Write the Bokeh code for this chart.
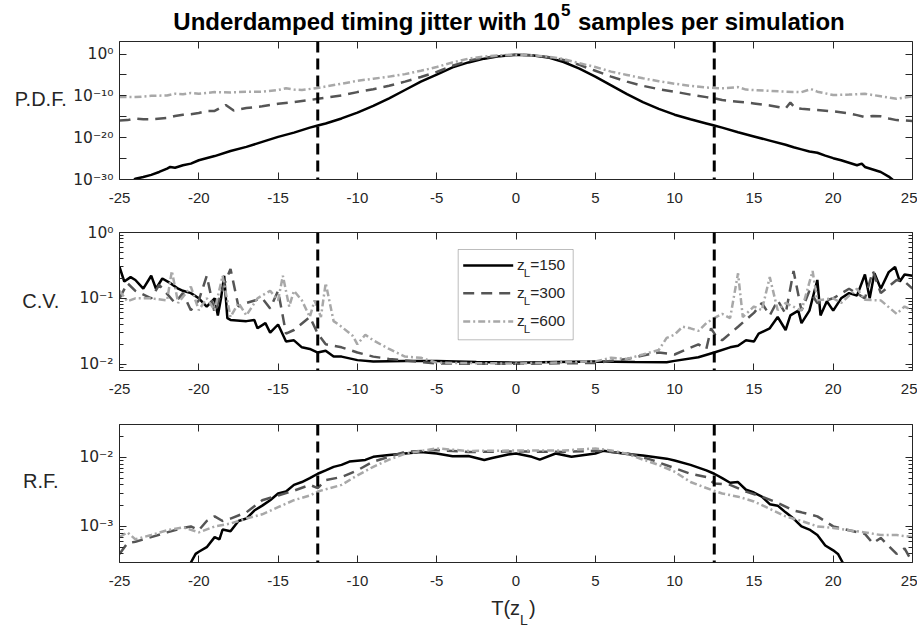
import numpy as np
from bokeh.plotting import figure
from bokeh.layouts import column, row
from bokeh.models import (Range1d, FixedTicker, CustomJSTickFormatter, LinearAxis,
                          LogAxis, Span, Label, BoxAnnotation)
from bokeh.embed import file_html
from bokeh.resources import INLINE

FONT = "Liberation Sans"
TICK_FONT_Y = "DejaVu Sans"
AX = "#262626"

# ---------------- data ----------------
t_ticks = [-25, -20, -15, -10, -5, 0, 5, 10, 15, 20, 25]
boundaries = [-12.5, 12.5]
legend_values = ["150", "300", "600"]
panel_names = ["P.D.F.", "C.V.", "R.F."]

pdf_range = (1e-30, 1e3)
cv_range = (0.008, 1.0)
rf_range = (3e-4, 3e-2)

# P.D.F. (stored as log10 of the density)
pdf_t_150 = [-24.3, -24.0, -23.5, -23.0, -22.5, -22.0, -21.8, -21.5, -21.0, -20.5, -20.0,
             -19.0, -18.0, -17.0, -16.0, -15.0, -14.0, -13.0, -12.5, -12.0, -11.0, -10.0,
             -9.0, -8.0, -7.0, -6.0, -5.0, -4.0, -3.0, -2.0, -1.0, 0.0, 1.0, 2.0, 3.0, 4.0,
             5.0, 6.0, 7.0, 8.0, 9.0, 10.0, 11.0, 12.0, 12.5, 13.0, 14.0, 15.0, 16.0, 17.0,
             17.5, 18.0, 18.5, 19.0, 19.5, 20.0, 20.5, 21.0, 21.5, 21.8, 22.0, 22.5, 23.0,
             23.5, 23.9]
pdf_log_150 = [-31.0, -29.8, -29.4, -28.9, -28.2, -27.4, -27.0, -27.2, -26.6, -26.2, -25.4,
               -24.4, -23.2, -22.2, -21.0, -19.8, -18.8, -17.6, -17.1, -16.6, -15.4, -14.0,
               -12.4, -10.6, -8.6, -6.6, -4.9, -3.2, -2.0, -1.1, -0.5, -0.15, -0.3, -0.8, -1.9, -3.5,
               -5.4, -7.5, -9.6, -11.5, -13.1, -14.5, -15.6, -16.6, -17.1, -17.6, -18.7, -19.7, -20.7, -21.7,
               -22.3, -22.8, -23.3, -23.6, -24.3, -24.9, -25.4, -26.0, -26.6, -26.2, -27.0, -27.6, -28.2,
               -29.3, -30.5]

pdf_t_300 = [-25.0, -24.5, -24.0, -23.5, -23.0, -22.0, -21.5, -21.0, -20.5, -20.0, -19.5,
             -19.0, -18.3, -17.8, -17.0, -16.0, -15.0, -14.0, -13.0, -12.5, -11.0, -10.0,
             -9.0, -8.0, -7.0, -6.0, -5.0, -4.0, -3.0, -2.0, -1.0, 0.0, 1.0, 2.0, 3.0, 4.0,
             5.0, 6.0, 7.0, 8.0, 9.0, 10.0, 11.0, 12.0, 12.5, 13.0, 14.0, 15.0, 16.0, 17.0,
             17.3, 17.6, 18.0, 19.0, 20.0, 21.0, 21.5, 22.0, 22.5, 23.0, 23.5, 24.0, 24.5, 25.0]
pdf_log_300 = [-15.9, -15.8, -15.4, -15.6, -15.6, -15.3, -14.8, -14.5, -14.4, -14.1, -13.6,
               -13.6, -12.2, -13.5, -12.9, -12.5, -11.9, -11.5, -11.0, -10.7, -9.9, -9.1,
               -8.4, -7.6, -6.6, -5.5, -4.3, -2.8, -1.6, -0.9, -0.4, -0.15, -0.3, -0.7, -1.4, -2.6,
               -4.0, -5.4, -6.6, -7.6, -8.4, -9.0, -9.7, -10.3, -10.6, -11.0, -11.4, -11.8, -12.3, -13.0,
               -11.6, -12.9, -13.1, -13.4, -13.7, -14.2, -14.6, -15.1, -14.8, -14.9, -15.4, -15.8, -15.9, -16.0]

pdf_t_600 = [-25.0, -24.0, -23.0, -22.0, -21.5, -21.0, -20.5, -20.0, -19.0, -18.0, -17.0,
             -16.0, -15.0, -14.5, -14.0, -13.5, -12.5, -11.0, -10.0, -9.0, -8.0, -7.0,
             -6.0, -5.0, -4.0, -3.0, -2.0, -1.0, 0.0, 1.0, 2.0, 3.0, 4.0, 5.0, 6.0, 7.0,
             8.0, 9.0, 10.0, 11.0, 12.0, 12.5, 13.0, 14.0, 14.5, 15.0, 16.0, 17.0, 18.0, 18.6,
             19.0, 20.0, 21.0, 22.0, 23.0, 24.0, 25.0]
pdf_log_600 = [-10.3, -10.3, -10.0, -9.9, -9.5, -9.6, -9.3, -9.5, -9.1, -9.2, -9.0,
               -9.0, -8.6, -8.2, -8.5, -8.6, -8.1, -7.1, -6.4, -5.9, -5.4, -4.8,
               -4.0, -3.1, -2.0, -1.1, -0.6, -0.3, -0.15, -0.3, -0.6, -1.2, -2.2, -3.1, -4.2, -5.0,
               -5.8, -6.5, -7.1, -7.6, -8.0, -8.1, -8.2, -7.9, -8.5, -8.6, -8.8, -9.0, -9.1, -8.4,
               -9.0, -9.8, -9.7, -9.5, -10.1, -10.7, -10.1]

# C.V.
cv_t_150 = [-25.0, -24.7, -24.3, -24.0, -23.5, -23.0, -22.7, -22.3, -21.8, -21.3, -21.0,
            -20.5, -20.0, -19.5, -19.0, -18.8, -18.6, -18.4, -18.2, -18.0, -17.0, -16.5,
            -16.3, -15.8, -15.5, -15.0, -14.5, -14.0, -13.5, -13.0, -12.5, -12.0, -11.5,
            -11.0, -10.0, -9.0, -7.0, -5.0, -2.5, 0.0, 2.5, 5.0, 7.5, 9.5, 10.0, 11.5, 12.5,
            13.5, 14.0, 14.5, 15.0, 15.3, 16.0, 16.5, 17.0, 17.3, 17.8, 18.0, 18.5, 19.0,
            19.2, 19.6, 20.0, 20.5, 21.0, 21.5, 22.0, 22.3, 22.6, 23.0, 23.5, 23.9, 24.2,
            24.5, 25.0]
cv_150 = [0.30, 0.18, 0.21, 0.19, 0.14, 0.22, 0.14, 0.20, 0.17, 0.14, 0.13,
          0.12, 0.10, 0.075, 0.10, 0.055, 0.10, 0.22, 0.05, 0.047, 0.045, 0.047,
          0.035, 0.042, 0.030, 0.040, 0.022, 0.023, 0.018, 0.017, 0.015, 0.016, 0.013,
          0.013, 0.0115, 0.011, 0.0112, 0.0112, 0.0108, 0.0105, 0.0108, 0.011, 0.0108, 0.0107, 0.0112, 0.0127, 0.015,
          0.018, 0.019, 0.023, 0.022, 0.029, 0.035, 0.052, 0.033, 0.055, 0.065, 0.042, 0.065, 0.19,
          0.055, 0.09, 0.065, 0.10, 0.12, 0.11, 0.23, 0.10, 0.24, 0.14, 0.25, 0.30, 0.18,
          0.23, 0.22]

cv_t_300 = [-25.0, -24.5, -24.0, -23.0, -22.5, -21.5, -21.0, -20.5, -20.0, -19.5, -19.0,
            -18.5, -18.0, -17.5, -17.0, -16.0, -15.5, -15.0, -14.5, -14.0, -13.0, -12.5,
            -12.0, -11.0, -10.0, -9.0, -8.0, -5.0, 0.0, 5.0, 7.0, 8.0, 9.0, 10.0, 11.5, 12.0,
            12.3, 12.6, 13.0, 14.0, 15.0, 15.5, 16.0, 16.5, 17.0, 17.5, 18.0, 18.5, 19.0,
            20.0, 21.0, 22.0, 22.5, 23.0, 24.0, 24.5, 25.0]
cv_300 = [0.10, 0.17, 0.13, 0.10, 0.16, 0.085, 0.12, 0.066, 0.093, 0.22, 0.06,
          0.14, 0.28, 0.075, 0.085, 0.10, 0.07, 0.13, 0.029, 0.033, 0.052, 0.029,
          0.020, 0.018, 0.015, 0.013, 0.012, 0.0102, 0.0101, 0.0104, 0.012, 0.0135, 0.015, 0.014, 0.020, 0.017,
          0.035, 0.027, 0.023, 0.037, 0.06, 0.085, 0.055, 0.093, 0.058, 0.26, 0.065, 0.13, 0.085,
          0.10, 0.14, 0.10, 0.26, 0.12, 0.19, 0.18, 0.14]

cv_t_600 = [-25.0, -24.5, -24.0, -23.0, -22.0, -21.7, -21.3, -20.5, -20.0, -19.5, -19.0,
            -18.5, -18.0, -17.5, -17.0, -16.3, -15.5, -15.0, -14.7, -14.3, -14.0, -13.5,
            -13.0, -12.7, -12.3, -12.0, -11.5, -11.0, -10.3, -10.0, -9.5, -9.0, -8.0, -7.0,
            -6.0, -5.0, 0.0, 5.0, 6.0, 7.0, 8.0, 9.0, 9.5, 10.0, 10.5, 11.0, 11.5, 12.0, 12.5,
            13.0, 13.5, 14.0, 14.3, 15.0, 15.5, 16.0, 16.5, 17.0, 18.0, 18.7, 19.0, 20.0,
            20.5, 21.5, 22.0, 23.0, 24.0, 24.5, 25.0]
cv_600 = [0.13, 0.09, 0.10, 0.10, 0.093, 0.26, 0.085, 0.15, 0.066, 0.10, 0.066,
          0.22, 0.052, 0.085, 0.055, 0.10, 0.13, 0.093, 0.22, 0.075, 0.13, 0.093,
          0.052, 0.093, 0.052, 0.17, 0.045, 0.037, 0.027, 0.020, 0.028, 0.023, 0.017, 0.013,
          0.0125, 0.0105, 0.0102, 0.011, 0.0125, 0.012, 0.014, 0.0164, 0.025, 0.028, 0.037, 0.035, 0.032, 0.042, 0.05,
          0.058, 0.05, 0.24, 0.052, 0.075, 0.066, 0.21, 0.066, 0.085, 0.065, 0.26, 0.093, 0.10,
          0.085, 0.14, 0.095, 0.093, 0.058, 0.075, 0.066]

# R.F.
rf_t_150 = [-20.8, -20.5, -20.2, -20.0, -19.5, -19.0, -18.7, -18.5, -18.0, -17.5, -17.0,
            -16.5, -16.0, -15.5, -15.0, -14.5, -14.0, -13.5, -13.0, -12.5, -12.0, -11.5,
            -11.0, -10.5, -9.5, -9.0, -8.0, -6.0, -5.0, -4.0, -3.0, -2.0, -1.5, -0.5, 0.0,
            1.0, 1.5, 2.5, 3.5, 5.0, 5.5, 7.0, 8.0, 9.5, 10.0, 11.0, 12.0, 12.5, 13.0, 13.5,
            14.0, 14.5, 15.0, 15.5, 16.0, 16.5, 17.0, 17.5, 18.0, 18.5, 19.0, 19.5, 20.0,
            20.3, 20.6, 20.9]
rf_150 = [0.0002, 0.0003, 0.0004, 0.00043, 0.0005, 0.0007, 0.00065, 0.0009, 0.00085, 0.0012, 0.0013,
          0.0017, 0.0020, 0.0024, 0.0030, 0.0032, 0.0040, 0.0044, 0.0050, 0.0058, 0.0065, 0.0073,
          0.0078, 0.0087, 0.0092, 0.0102, 0.0108, 0.0120, 0.0114, 0.0104, 0.0105, 0.0092, 0.0098, 0.0110, 0.0114,
          0.0102, 0.0093, 0.0114, 0.0102, 0.0114, 0.0125, 0.0112, 0.0107, 0.0096, 0.0090, 0.0078, 0.0065, 0.0058, 0.0050, 0.0043,
          0.0044, 0.0034, 0.0031, 0.0027, 0.0021, 0.0020, 0.0016, 0.0013, 0.0010, 0.0009, 0.00075, 0.00053, 0.00045,
          0.0004, 0.0003, 0.0002]

rf_t_300 = [-25.0, -24.5, -24.0, -23.0, -22.0, -21.0, -20.5, -20.0, -19.5, -19.0, -18.5,
            -18.0, -17.0, -16.0, -15.0, -14.0, -13.0, -12.5, -12.0, -11.0, -10.0, -9.0,
            -8.0, -7.0, -5.0, -3.0, 0.0, 3.0, 5.0, 7.0, 8.5, 10.0, 11.0, 12.0, 12.5, 13.5,
            14.5, 15.5, 16.5, 17.5, 18.0, 19.0, 20.0, 21.0, 22.0, 22.5, 23.0, 24.0, 24.5, 25.0]
rf_300 = [0.0004, 0.00057, 0.0006, 0.0007, 0.00082, 0.00095, 0.0010, 0.00088, 0.0012, 0.0014, 0.0012,
          0.0013, 0.0016, 0.0024, 0.0028, 0.0033, 0.0040, 0.0036, 0.0047, 0.0052, 0.0065, 0.0087,
          0.0102, 0.0120, 0.0128, 0.0120, 0.0122, 0.0120, 0.0125, 0.0115, 0.0093, 0.0070, 0.0058, 0.0052, 0.0042, 0.0040,
          0.0032, 0.0027, 0.0022, 0.0017, 0.0016, 0.0014, 0.0010, 0.00088, 0.00078, 0.00057, 0.00068, 0.0004, 0.00048, 0.0003]

rf_t_600 = [-25.0, -24.5, -24.0, -23.0, -22.0, -21.0, -20.0, -19.0, -18.0, -17.0, -16.0,
            -15.0, -14.0, -13.0, -12.5, -11.0, -10.0, -9.0, -8.0, -7.0, -5.0, -3.0, 0.0,
            3.0, 5.0, 6.0, 7.0, 8.0, 9.0, 10.0, 11.0, 12.0, 13.0, 14.0, 15.0, 16.0, 17.0,
            18.0, 19.0, 20.0, 21.0, 22.0, 23.0, 24.0, 25.0]
rf_600 = [0.0007, 0.00082, 0.00065, 0.00075, 0.00088, 0.00097, 0.00082, 0.0010, 0.0011, 0.0013, 0.0015,
          0.0019, 0.0024, 0.0028, 0.0032, 0.0040, 0.0055, 0.0073, 0.0093, 0.0113, 0.0135, 0.0124, 0.0126,
          0.0126, 0.0135, 0.0126, 0.0113, 0.0093, 0.0078, 0.0062, 0.0044, 0.0036, 0.0030, 0.0027, 0.0023, 0.0018, 0.0014,
          0.0012, 0.0010, 0.00095, 0.00088, 0.00082, 0.00075, 0.00075, 0.0007]

# ---------------- styles / geometry ----------------
STYLES = [dict(line_color="black", line_width=2.5),
          dict(line_color="#555555", line_width=2.5, line_dash="11 7"),
          dict(line_color="#a8a8a8", line_width=2.5, line_dash="7 3 2 3")]

NAME_W = 68          # width of the column holding P.D.F. / C.V. / R.F.
LEFT_B = 51          # left border of each panel (tick labels)
RIGHT_B = 5
FW, FH = 793, 138
TOTAL_W = NAME_W + LEFT_B + FW + RIGHT_B
FRAME_L, FRAME_R = float(NAME_W + LEFT_B), float(NAME_W + LEFT_B + FW)
X0, X1 = -25, 25

TITLE_H = 37
PANEL_BORDERS = [(4, 32), (21, 32), (22, 32)]   # (top, bottom) of the three panels
XLAB_H = 34
MID = 0.3465          # baseline sits this many em below the text's middle

TOPS = []
acc = TITLE_H
for tb, bb in PANEL_BORDERS:
    TOPS.append(acc + tb)
    acc += tb + FH + bb


def x_at(px):
    return X0 + (px - FRAME_L) / (FRAME_R - FRAME_L) * (X1 - X0)


def y_at(py, frame_top, yr):
    lo, hi = np.log10(yr[0]), np.log10(yr[1])
    return 10 ** (hi - (py - frame_top) / FH * (hi - lo))


SUP_JS = """
const sup = {"-": "\u207b", "0": "\u2070", "1": "\u00b9", "2": "\u00b2", "3": "\u00b3",
             "4": "\u2074", "5": "\u2075", "6": "\u2076", "7": "\u2077", "8": "\u2078", "9": "\u2079"};
const e = Math.round(Math.log10(tick));
if (e % every !== 0) { return ""; }
let s = "10";
for (const c of String(e)) { s += sup[c]; }
return s;
"""


def style_axis(a, font, font_size):
    a.axis_line_color = AX
    a.axis_line_width = 1
    a.major_tick_line_color = AX
    a.minor_tick_line_color = AX
    a.major_tick_in = 7
    a.major_tick_out = 0
    a.minor_tick_in = 4
    a.minor_tick_out = 0
    a.major_label_text_font = font
    a.major_label_text_color = AX
    a.major_label_text_font_size = font_size


def make_panel(yr, top, bottom, major, minor, every):
    p = figure(frame_width=FW, frame_height=FH, x_range=Range1d(X0, X1),
               y_range=Range1d(*yr), y_axis_type="log", output_backend="svg",
               toolbar_location=None, min_border_left=LEFT_B, min_border_right=RIGHT_B,
               min_border_top=top, min_border_bottom=bottom, title=None,
               background_fill_color="white", border_fill_color="white",
               outline_line_color=None)
    p.grid.visible = False
    yt = FixedTicker(ticks=major, minor_ticks=minor)
    xt = FixedTicker(ticks=t_ticks, minor_ticks=[])
    p.yaxis.ticker = yt
    p.yaxis.formatter = CustomJSTickFormatter(args=dict(every=every), code=SUP_JS)
    p.xaxis.ticker = xt
    p.xaxis.formatter = CustomJSTickFormatter(code="return tick.toString();")
    for a in p.yaxis:
        style_axis(a, TICK_FONT_Y, "15.5px")
        a.major_label_standoff = 6
    for a in p.xaxis:
        style_axis(a, FONT, "15px")
        a.major_label_standoff = 13
    blank = CustomJSTickFormatter(code="return '';")
    ra = LogAxis(ticker=yt, formatter=blank)
    style_axis(ra, FONT, "0px")
    ra.major_label_standoff = 0
    p.add_layout(ra, "right")
    ta = LinearAxis(ticker=xt, formatter=blank)
    style_axis(ta, FONT, "0px")
    ta.major_label_standoff = 0
    p.add_layout(ta, "above")
    return p


def text_fig(w, h):
    f = figure(width=w, height=h, x_range=Range1d(0, w), y_range=Range1d(h, 0),
               toolbar_location=None, output_backend="svg", min_border=0,
               x_axis_location=None, y_axis_location=None, title=None,
               outline_line_color=None, background_fill_color="white",
               border_fill_color="white")
    f.grid.visible = False
    return f


def put(f, x, base_y, text, size_px, align="left", bold=False, color=AX, font=FONT):
    f.add_layout(Label(x=x, y=base_y - MID * size_px, text=text, text_font=font,
                       text_font_size=f"{size_px}px", text_align=align,
                       text_baseline="middle", text_color=color,
                       text_font_style="bold" if bold else "normal"))


def decade_minors(lo_exp, hi_exp, yr):
    out = []
    for n in range(lo_exp, hi_exp + 1):
        for k in range(2, 10):
            v = k * 10.0 ** n
            if yr[0] <= v <= yr[1]:
                out.append(v)
    return out


p1 = make_panel(pdf_range, *PANEL_BORDERS[0], [10.0 ** e for e in range(-30, 1, 5)], [], 10)
p2 = make_panel(cv_range, *PANEL_BORDERS[1], [0.01, 0.1, 1.0], decade_minors(-3, -1, cv_range), 1)
p3 = make_panel(rf_range, *PANEL_BORDERS[2], [1e-3, 1e-2], decade_minors(-4, -2, rf_range), 1)

pdf_sets = [(pdf_t_150, pdf_log_150), (pdf_t_300, pdf_log_300), (pdf_t_600, pdf_log_600)]
for (t, lg), st in zip(pdf_sets, STYLES):
    p1.line(t, [10.0 ** v for v in lg], **st)

cv_sets = [(cv_t_150, cv_150), (cv_t_300, cv_300), (cv_t_600, cv_600)]
for (t, v), st in zip(cv_sets, STYLES):
    p2.line(t, v, **st)

rf_sets = [(rf_t_150, rf_150), (rf_t_300, rf_300), (rf_t_600, rf_600)]
for (t, v), st in zip(rf_sets, STYLES):
    p3.line(t, v, **st)

for p in (p1, p2, p3):
    for b in boundaries:
        p.add_layout(Span(location=b, dimension="height", line_color="black",
                          line_width=3, line_dash="11 6"))

# legend (inside the C.V. panel)
p2.add_layout(BoxAnnotation(left=x_at(457.7), right=x_at(572.7),
                            top=y_at(249.0, TOPS[1], cv_range),
                            bottom=y_at(339.3, TOPS[1], cv_range),
                            fill_color="white", fill_alpha=1.0,
                            line_color=AX, line_width=1))
rows = [265.0, 292.7, 321.0]
for yrow, val, st in zip(rows, legend_values, STYLES):
    yy = y_at(yrow, TOPS[1], cv_range)
    r = p2.line([x_at(462.7), x_at(512.7)], [yy, yy], **st)
    r.level = "overlay"
    for px, dy, txt, size in ((516.5, 4.3, "z", 15.5), (523.3, 11.5, "L", 11.5),
                              (529.8, 4.3, "=" + val, 15.5)):
        p2.add_layout(Label(x=x_at(px), y=y_at(yrow + dy - MID * size, TOPS[1], cv_range),
                            text=txt, text_font=FONT, text_font_size=f"{size}px",
                            text_color=AX, text_baseline="middle"))

# title strip
tf = text_fig(TOTAL_W, TITLE_H)
put(tf, 559.5, 29.3, "Underdamped timing jitter with 10", 24, align="right", bold=True, color="black")
put(tf, 560.5, 15.0, "5", 17, bold=True, color="black")
put(tf, 577.5, 29.3, "samples per simulation", 24, bold=True, color="black")

# panel-name strips
name_figs = []
name_baselines = [116.7, 313.3, 487.7]
acc = TITLE_H
for (tb, bb), name, yb in zip(PANEL_BORDERS, panel_names, name_baselines):
    h = tb + FH + bb
    nf = text_fig(NAME_W, h)
    put(nf, 40.3, yb - acc, name, 20, align="center")
    name_figs.append(nf)
    acc += h

# x-label strip  T(z_L)
xf = text_fig(TOTAL_W, XLAB_H)
y_base = 614.0 - acc
put(xf, 490.7, y_base, "T(z", 20)
put(xf, 519.5, y_base + 10.0, "L", 14)
put(xf, 528.5, y_base, ")", 20)

layout = column(tf, row(name_figs[0], p1), row(name_figs[1], p2), row(name_figs[2], p3), xf)
open("out.html", "w").write(file_html(layout, INLINE))
